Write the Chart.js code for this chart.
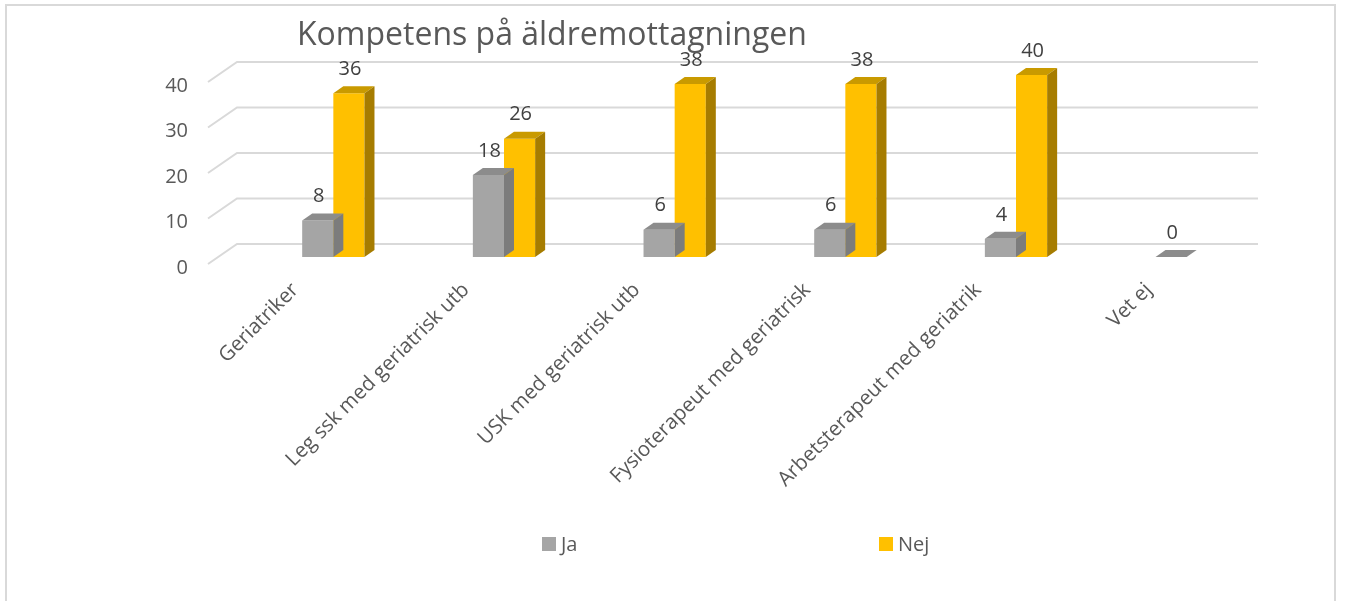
<!DOCTYPE html>
<html>
<head>
<meta charset="utf-8">
<script src="https://cdn.jsdelivr.net/npm/chart.js@4.4.0/dist/chart.umd.min.js"></script>
<style>
  body { margin: 0; background: #fff; }
  #wrap { position: relative; width: 1345px; height: 601px; }
  #frame { position: absolute; left: 5px; top: 4px; width: 1331px; height: 620px; border: 2px solid #d9d9d9; box-sizing: border-box; }
  canvas { position: absolute; left: 0; top: 0; }
</style>
</head>
<body>
<div id="wrap">
  <div id="frame"></div>
  <canvas id="kompChart" width="1345" height="601"></canvas>
</div>
<script>
    // Data
    const chartTitle = 'Kompetens på äldremottagningen';
    const categories = ['Geriatriker', 'Leg ssk med geriatrisk utb', 'USK med geriatrisk utb',
        'Fysioterapeut med geriatrisk', 'Arbetsterapeut med geriatrik', 'Vet ej'];
    const jaValues = [8, 18, 6, 6, 4, 0];
    const nejValues = [36, 26, 38, 38, 40, null];
    const yTicks = [0, 10, 20, 30, 40];

    const textColor = '#595959';
    const fontFamily = '"Open Sans", "DejaVu Sans", sans-serif';

    // Farger: framsida, topp, sida
    const shades = [
        { front: '#a5a5a5', top: '#8c8c8c', side: '#7c7c7c' },
        { front: '#ffc000', top: '#c99a00', side: '#a67c00' }
    ];
    const depthX = 10, depthY = 7;

    // Rutnat med 3D-vagg
    const gridPlugin = {
        id: 'grid3d',
        beforeDatasetsDraw(chart) {
            const ctx = chart.ctx;
            const area = chart.chartArea;
            const yScale = chart.scales.y;
            ctx.save();
            ctx.strokeStyle = '#d9d9d9';
            ctx.lineWidth = 2;
            yTicks.forEach(v => {
                const y = yScale.getPixelForValue(v);
                ctx.beginPath();
                ctx.moveTo(area.left - 40, y + 7);
                ctx.lineTo(area.left - 11, y - 13);
                ctx.lineTo(area.right - 14, y - 13);
                ctx.stroke();
            });
            ctx.restore();
        }
    };

    // Topp- och sidoytor samt etiketter
    const barPlugin = {
        id: 'bars3d',
        afterDatasetsDraw(chart) {
            const ctx = chart.ctx;
            ctx.save();
            chart.data.datasets.forEach((ds, di) => {
                const meta = chart.getDatasetMeta(di);
                meta.data.forEach((bar, i) => {
                    const v = ds.data[i];
                    if (v === null || v === undefined) return;
                    const left = bar.x - bar.width / 2;
                    const right = bar.x + bar.width / 2;
                    const top = bar.y;
                    const base = bar.base;
                    // topp
                    ctx.fillStyle = shades[di].top;
                    ctx.beginPath();
                    ctx.moveTo(left, top);
                    ctx.lineTo(left + depthX, top - depthY);
                    ctx.lineTo(right + depthX, top - depthY);
                    ctx.lineTo(right, top);
                    ctx.closePath();
                    ctx.fill();
                    // sida
                    if (base - top > 0) {
                        ctx.fillStyle = shades[di].side;
                        ctx.beginPath();
                        ctx.moveTo(right, top);
                        ctx.lineTo(right + depthX, top - depthY);
                        ctx.lineTo(right + depthX, base - depthY);
                        ctx.lineTo(right, base);
                        ctx.closePath();
                        ctx.fill();
                    }
                    // etikett
                    ctx.fillStyle = '#404040';
                    ctx.font = '20px ' + fontFamily;
                    ctx.textAlign = 'center';
                    ctx.textBaseline = 'middle';
                    ctx.fillText(String(v), bar.x + 1, top - 24);
                });
            });
            ctx.restore();
        }
    };

    // Titel och legend
    const extrasPlugin = {
        id: 'extras',
        afterDraw(chart) {
            const ctx = chart.ctx;
            ctx.save();
            ctx.fillStyle = textColor;
            ctx.font = '32px ' + fontFamily;
            ctx.textAlign = 'left';
            ctx.textBaseline = 'alphabetic';
            ctx.fillText(chartTitle, 297, 45);

            const legendX = [542, 879];
            ctx.font = '20px ' + fontFamily;
            ctx.textBaseline = 'middle';
            chart.data.datasets.forEach((ds, di) => {
                ctx.fillStyle = ds.backgroundColor;
                ctx.fillRect(legendX[di], 537, 14, 14);
                ctx.fillStyle = textColor;
                ctx.fillText(ds.label, legendX[di] + 19, 545);
            });
            ctx.restore();
        }
    };

    const ctx = document.getElementById('kompChart').getContext('2d');
    const chart = new Chart(ctx, {
        type: 'bar',
        data: {
            labels: categories,
            datasets: [
                { label: 'Ja', data: jaValues, backgroundColor: shades[0].front },
                { label: 'Nej', data: nejValues, backgroundColor: shades[1].front }
            ]
        },
        options: {
            responsive: false,
            animation: false,
            layout: { padding: { top: 75, left: 0, right: 73, bottom: 0 } },
            datasets: {
                bar: { categoryPercentage: 0.365, barPercentage: 1.0 }
            },
            scales: {
                x: {
                    grid: { display: false },
                    border: { display: false },
                    ticks: {
                        autoSkip: false,
                        minRotation: 45,
                        maxRotation: 45,
                        labelOffset: -38,
                        padding: 13,
                        color: textColor,
                        font: { family: fontFamily, size: 20.5 }
                    },
                    afterFit(scale) { scale.height = 344; }
                },
                y: {
                    min: 0,
                    max: 40,
                    grid: { display: false },
                    border: { display: false },
                    ticks: {
                        stepSize: 10,
                        padding: 52,
                        labelOffset: 11,
                        color: textColor,
                        font: { family: fontFamily, size: 20 }
                    },
                    afterFit(scale) { scale.width = 248; }
                }
            },
            plugins: {
                legend: { display: false },
                tooltip: { enabled: false }
            }
        },
        plugins: [gridPlugin, barPlugin, extrasPlugin]
    });
</script>
</body>
</html>
